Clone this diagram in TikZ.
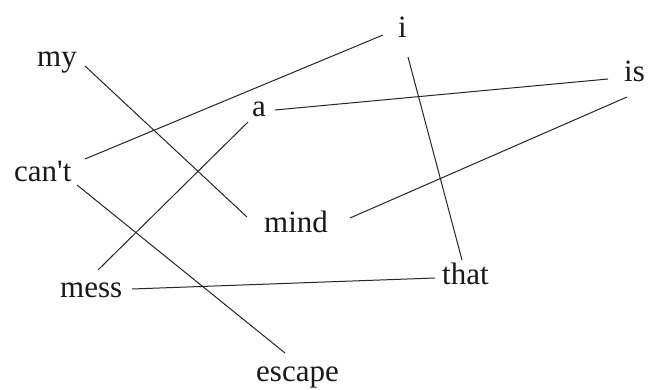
\documentclass[tikz,border=0pt]{standalone}
\usepackage{fontspec}
\setmainfont{Liberation Serif}
\begin{document}
\begin{tikzpicture}[x=1pt,y=-1pt,
  word/.style={anchor=base west,inner sep=0pt,font=\fontsize{31}{37}\selectfont,text=black!90},
  link/.style={draw=black!85,line width=1pt}]
\useasboundingbox[fill=white] (0,0) rectangle (651,390);
% words
\node[word] (my) at (37,67) {my};
\node[word] (i) at (398,38) {i};
\node[word] (is) at (624,82) {is};
\node[word] (a) at (252,117) {a};
\node[word] (cant) at (14,182) {can\textquotesingle t};
\node[word] (mind) at (264,233) {mind};
\node[word] (mess) at (60,298) {mess};
\node[word] (that) at (442,285) {that};
\node[word] (escape) at (256,381) {escape};
% connector end points
\coordinate (cant-i) at (85,159);
\coordinate (i-cant) at (383,35);
\coordinate (my-mind) at (85,66);
\coordinate (mind-my) at (247,217);
\coordinate (a-is) at (275,110);
\coordinate (is-a) at (608,79);
\coordinate (mind-is) at (350,218);
\coordinate (is-mind) at (627,97);
\coordinate (a-mess) at (248,122);
\coordinate (mess-a) at (98,270);
\coordinate (i-that) at (408,57);
\coordinate (that-i) at (462,260);
\coordinate (cant-escape) at (77,185);
\coordinate (escape-cant) at (285,353);
\coordinate (mess-that) at (132,289);
\coordinate (that-mess) at (435,278);
% connectors
\draw[link] (cant-i) -- (i-cant);
\draw[link] (my-mind) -- (mind-my);
\draw[link] (a-is) -- (is-a);
\draw[link] (mind-is) -- (is-mind);
\draw[link] (a-mess) -- (mess-a);
\draw[link] (i-that) -- (that-i);
\draw[link] (cant-escape) -- (escape-cant);
\draw[link] (mess-that) -- (that-mess);
\end{tikzpicture}
\end{document}
